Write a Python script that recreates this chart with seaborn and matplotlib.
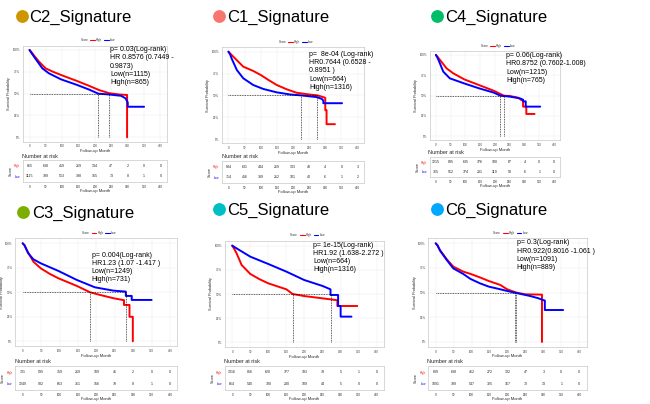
import numpy as np
import pandas as pd
import matplotlib
matplotlib.use("Agg")
import matplotlib.pyplot as plt
import seaborn as sns
from matplotlib.lines import Line2D

# ---------------- data ----------------
months = [0, 50, 100, 150, 200, 250, 300, 350, 400]
pct_ticks = [0, 0.25, 0.5, 0.75, 1.0]
pct_labels = ["0%", "25%", "50%", "75%", "100%"]

# C2
c2_high_t = [0, 5, 15, 29, 49, 72, 96, 120, 145, 183, 213, 244, 275, 298, 298]
c2_high_s = [1.0, 0.98, 0.93, 0.866, 0.79, 0.75, 0.714, 0.68, 0.645, 0.588, 0.54, 0.505, 0.49, 0.485, 0.0]
c2_low_t = [0, 5, 18, 39, 59, 96, 145, 183, 210, 244, 280, 293, 300, 300, 350]
c2_low_s = [1.0, 0.97, 0.90, 0.79, 0.733, 0.664, 0.60, 0.545, 0.50, 0.49, 0.475, 0.447, 0.40, 0.35, 0.35]
c2_medians = [244, 210]
c2_risk_high = [865, 638, 459, 269, 134, 47, 2, 0, 0]
c2_risk_low = [1115, 789, 553, 338, 155, 73, 8, 1, 0]
c2_note = "p= 0.03(Log-rank)\nHR 0.8576 (0.7449 -\n0.9873)\nLow(n=1115)\nHigh(n=865)"

# C1
c1_high_t = [0, 5, 15, 46, 77, 100, 124, 150, 180, 211, 250, 275, 294, 300, 300, 304, 304, 330]
c1_high_s = [1.0, 0.98, 0.943, 0.828, 0.779, 0.733, 0.676, 0.618, 0.57, 0.53, 0.51, 0.50, 0.48, 0.47, 0.33, 0.33, 0.17, 0.17]
c1_low_t = [0, 5, 10, 26, 46, 77, 108, 150, 191, 224, 273, 289, 294, 294, 352]
c1_low_s = [1.0, 0.97, 0.92, 0.79, 0.695, 0.618, 0.573, 0.534, 0.51, 0.50, 0.48, 0.46, 0.44, 0.41, 0.41]
c1_medians = [275, 224]
c1_risk_high = [834, 631, 444, 269, 133, 48, 4, 0, 3]
c1_risk_low = [714, 456, 339, 212, 101, 40, 6, 1, 2]
c1_note = "p=  8e-04 (Log-rank)\nHR0.7644 (0.6528 -\n0.8951 )\nLow(n=664)\nHigh(n=1316)"

# C4
c4_high_t = [0, 5, 13.5, 36, 58.5, 96, 146, 196, 230, 250, 278, 289, 295, 295, 306, 306, 334]
c4_high_s = [1.0, 0.98, 0.94, 0.836, 0.775, 0.70, 0.63, 0.56, 0.50, 0.496, 0.475, 0.447, 0.44, 0.365, 0.365, 0.275, 0.275]
c4_low_t = [0, 5, 11, 25, 47, 96, 146, 196, 218, 250, 284, 295, 295, 304, 304, 353]
c4_low_s = [1.0, 0.97, 0.918, 0.795, 0.713, 0.65, 0.59, 0.537, 0.50, 0.488, 0.467, 0.45, 0.43, 0.43, 0.365, 0.365]
c4_medians = [230, 218]
c4_risk_high = [1215, 895, 635, 376, 180, 67, 4, 0, 0]
c4_risk_low = [765, 512, 374, 231, 119, 53, 6, 1, 0]
c4_note = "p= 0.06(Log-rank)\nHR0.8752 (0.7602-1.008)\nLow(n=1215)\nHigh(n=765)"

# C3
c3_high_t = [0, 5, 11, 29, 49, 74, 97, 147, 183, 210, 246, 271, 275, 275, 290, 290, 299, 299]
c3_high_s = [1.0, 0.98, 0.932, 0.813, 0.745, 0.687, 0.643, 0.565, 0.50, 0.473, 0.44, 0.422, 0.42, 0.371, 0.371, 0.25, 0.25, 0.0]
c3_low_t = [0, 5, 15, 29, 49, 97, 147, 196, 246, 280, 280, 296, 296, 350]
c3_low_s = [1.0, 0.98, 0.898, 0.837, 0.796, 0.718, 0.626, 0.551, 0.517, 0.507, 0.463, 0.463, 0.422, 0.422]
c3_medians = [183, 280]
c3_risk_high = [731, 595, 359, 219, 109, 41, 2, 0, 0]
c3_risk_low = [1249, 982, 653, 361, 156, 79, 8, 1, 0]
c3_note = "p= 0.004(Log-rank)\nHR1.23 (1.07 -1.417 )\nLow(n=1249)\nHigh(n=731)"

# C5
c5_high_t = [0, 5, 12, 26, 50, 76, 100, 150, 167, 199, 250, 286, 291, 291, 346]
c5_high_s = [1.0, 0.97, 0.921, 0.80, 0.707, 0.652, 0.61, 0.548, 0.50, 0.479, 0.455, 0.438, 0.435, 0.376, 0.376]
c5_low_t = [0, 12, 50, 100, 150, 199, 250, 272, 272, 293, 293, 300, 300, 330]
c5_low_s = [1.0, 0.972, 0.886, 0.81, 0.731, 0.645, 0.583, 0.548, 0.49, 0.49, 0.376, 0.376, 0.266, 0.266]
c5_medians = [167, 272]
c5_risk_high = [1316, 856, 620, 377, 193, 79, 5, 1, 0]
c5_risk_low = [664, 540, 390, 230, 109, 44, 5, 0, 0]
c5_note = "p= 1e-15(Log-rank)\nHR1.92 (1.638-2.272 )\nLow(n=664)\nHigh(n=1316)"

# C6
c6_high_t = [0, 5, 12, 31, 49, 77, 97, 123, 148, 180, 199, 225, 250, 296, 296]
c6_high_s = [1.0, 0.98, 0.932, 0.838, 0.764, 0.713, 0.69, 0.655, 0.618, 0.578, 0.534, 0.50, 0.483, 0.48, 0.0]
c6_low_t = [0, 5, 12, 31, 49, 77, 97, 123, 148, 180, 199, 220, 263, 286, 298, 304, 304, 355]
c6_low_s = [1.0, 0.98, 0.926, 0.83, 0.746, 0.689, 0.639, 0.595, 0.561, 0.534, 0.517, 0.50, 0.466, 0.443, 0.426, 0.42, 0.324, 0.324]
c6_medians = [225, 220]
c6_risk_high = [889, 638, 462, 272, 132, 47, 3, 0, 0]
c6_risk_low = [1091, 789, 547, 325, 167, 73, 13, 1, 0]
c6_note = "p= 0.3(Log-rank)\nHR0.922(0.8016 -1.061 )\nLow(n=1091)\nHigh(n=889)"

titles = ["C2_Signature", "C1_Signature", "C4_Signature",
          "C3_Signature", "C5_Signature", "C6_Signature"]
title_colors = ["#CD9600", "#F8766D", "#00BE67", "#7CAE00", "#00BFC4", "#00A9FF"]

# ---------------- layout (pixels) ----------------
W, H = 650, 404
layout = [
    # dot(x,y), title x, km box (l,t,r,b), table box, note (x,y), number-at-risk (x,y)
    dict(dot=(21.7, 15.7), tx=29, km=(23, 45.6, 167, 141.7), tb=(23, 160, 167, 182), note=(110, 46), nar=(22, 156)),
    dict(dot=(219, 15.7), tx=227, km=(222, 47.3, 364, 143.4), tb=(222, 161, 364, 183), note=(309, 51), nar=(221.7, 156)),
    dict(dot=(436.7, 15.7), tx=445, km=(430, 50.9, 560, 140.4), tb=(430, 157, 560, 177), note=(506, 52), nar=(428, 152.7)),
    dict(dot=(22.7, 212.3), tx=32, km=(15.3, 238.4, 177.4, 346.2), tb=(15.3, 365.7, 177.4, 390), note=(91.7, 251.7), nar=(15, 361.7)),
    dict(dot=(219.3, 209.3), tx=227, km=(225, 240.8, 384, 347.2), tb=(225, 365.7, 384, 390), note=(313, 241.7), nar=(224, 361.7)),
    dict(dot=(436.7, 209.3), tx=445, km=(428.5, 238.4, 586.5, 346.9), tb=(428.5, 365.7, 586.5, 390), note=(516.7, 239.3), nar=(426.7, 361.7)),
]

panels = [
    (c2_high_t, c2_high_s, c2_low_t, c2_low_s, c2_medians, c2_risk_high, c2_risk_low, c2_note),
    (c1_high_t, c1_high_s, c1_low_t, c1_low_s, c1_medians, c1_risk_high, c1_risk_low, c1_note),
    (c4_high_t, c4_high_s, c4_low_t, c4_low_s, c4_medians, c4_risk_high, c4_risk_low, c4_note),
    (c3_high_t, c3_high_s, c3_low_t, c3_low_s, c3_medians, c3_risk_high, c3_risk_low, c3_note),
    (c5_high_t, c5_high_s, c5_low_t, c5_low_s, c5_medians, c5_risk_high, c5_risk_low, c5_note),
    (c6_high_t, c6_high_s, c6_low_t, c6_low_s, c6_medians, c6_risk_high, c6_risk_low, c6_note),
]

sns.set_theme(style="whitegrid")
plt.rcParams["font.family"] = ["Liberation Sans", "DejaVu Sans"]

fig = plt.figure(figsize=(6.5, 4.04), dpi=100)
fig.patch.set_facecolor("white")


def px_axes(box):
    l, t, r, b = box
    return fig.add_axes([l / W, 1 - b / H, (r - l) / W, (b - t) / H])


def fx(x):
    return x / W


def fy(y):
    return 1 - y / H


pal = {"High": "#FF0000", "Low": "#0000FF"}

for i, (lay, pan) in enumerate(zip(layout, panels)):
    ht, hs, lt, ls, meds, rh, rl, note = pan

    # title with coloured dot
    fig.add_artist(Line2D([fx(lay["dot"][0])], [fy(lay["dot"][1])], marker="o", ms=8.2,
                          color=title_colors[i], transform=fig.transFigure, lw=0))
    fig.text(fx(lay["tx"]), fy(lay["dot"][1]), titles[i], fontsize=12,
             va="center_baseline", ha="left", color="black")

    # KM plot
    ax = px_axes(lay["km"])
    df = pd.concat([
        pd.DataFrame({"time": ht, "surv": hs, "Score": "High"}),
        pd.DataFrame({"time": lt, "surv": ls, "Score": "Low"}),
    ], ignore_index=True)
    sns.lineplot(data=df, x="time", y="surv", hue="Score", hue_order=["High", "Low"],
                 palette=pal, sort=False, estimator=None, lw=1.4, ax=ax, legend=False)
    mmax = max(meds)
    ax.plot([0, mmax], [0.5, 0.5], color="black", lw=0.5, ls=(0, (1.2, 1.2)))
    for m in meds:
        ax.plot([m, m], [0, 0.5], color="black", lw=0.5, ls=(0, (1.2, 1.2)))
    ax.set_xlim(-20, 420)
    ax.set_ylim(-0.05, 1.05)
    ax.set_xticks(months)
    ax.set_yticks(pct_ticks)
    ax.set_yticklabels(pct_labels)
    ax.tick_params(labelsize=2.2, length=1, width=0.3, pad=1, colors="#444444")
    ax.set_xlabel("Follow-up Month", fontsize=3, labelpad=0.5)
    ax.set_ylabel("Survival Probability", fontsize=2.8, labelpad=1)
    ax.grid(True, color="#ebebeb", lw=0.35)
    for sp in ax.spines.values():
        sp.set_color("#c8c8c8")
        sp.set_linewidth(0.5)
    handles = [Line2D([], [], color="none"),
               Line2D([], [], color=pal["High"], lw=0.8),
               Line2D([], [], color=pal["Low"], lw=0.8)]
    ax.legend(handles, ["Score", "High", "Low"], ncol=3, loc="lower center",
              bbox_to_anchor=(0.5, 1.02), frameon=False, fontsize=2.2,
              handlelength=1.6, columnspacing=0.6, handletextpad=0.3, borderaxespad=0)

    # annotation
    fig.text(fx(lay["note"][0]), fy(lay["note"][1]), note, fontsize=5,
             va="top", ha="left", linespacing=1.25, color="black")

    # number at risk
    fig.text(fx(lay["nar"][0]), fy(lay["nar"][1]), "Number at risk", fontsize=4,
             va="center", ha="left")
    tx = px_axes(lay["tb"])
    for j, t in enumerate(months):
        tx.text(t, 1, str(rh[j]), ha="center", va="center", fontsize=2.6)
        tx.text(t, 0, str(rl[j]), ha="center", va="center", fontsize=2.6)
    tx.set_xlim(-20, 420)
    tx.set_ylim(-0.55, 1.55)
    tx.set_xticks(months)
    tx.set_yticks([1, 0])
    tx.set_yticklabels(["High", "Low"])
    tx.get_yticklabels()[0].set_color(pal["High"])
    tx.get_yticklabels()[1].set_color(pal["Low"])
    tx.tick_params(labelsize=2.2, length=1, width=0.3, pad=1)
    tx.set_xlabel("Follow-up Month", fontsize=3, labelpad=0.5)
    tx.set_ylabel("Score", fontsize=2.8, labelpad=1)
    tx.grid(False)
    for sp in tx.spines.values():
        sp.set_color("#c8c8c8")
        sp.set_linewidth(0.5)

fig.savefig("out.png", dpi=100, facecolor="white")
